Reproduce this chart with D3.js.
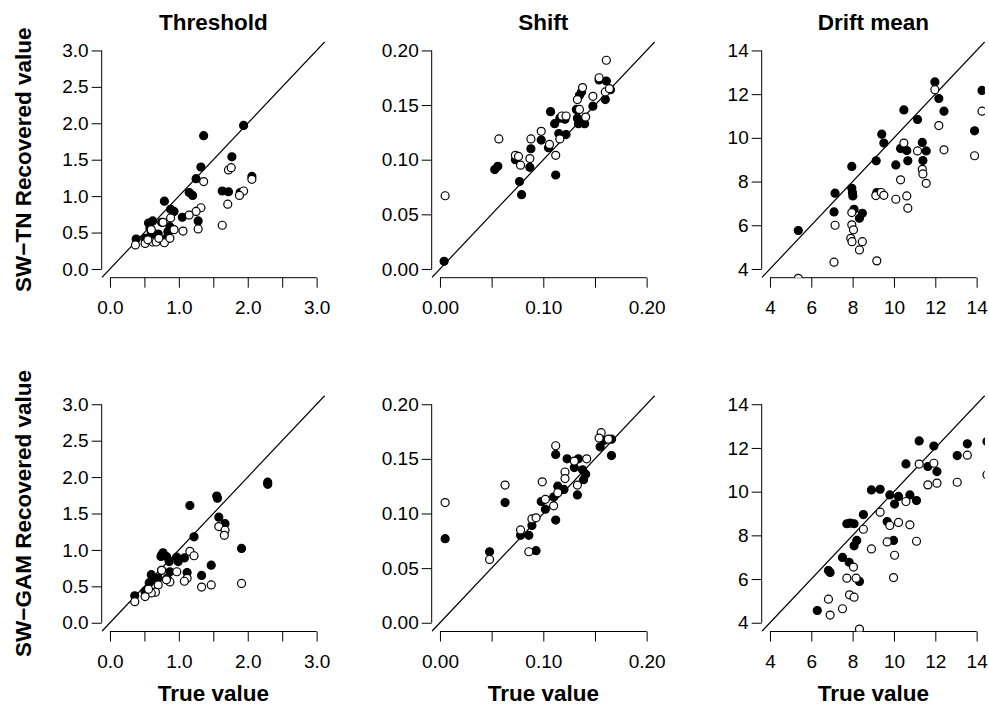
<!DOCTYPE html>
<html>
<head>
<meta charset="utf-8">
<script src="https://cdn.jsdelivr.net/npm/d3@7"></script>
<style>
body { margin: 0; background: #fff; }
text { font-family: "Liberation Sans", Arial, Helvetica, sans-serif; fill: #000; }
.tick text { font-size: 19px; }
.lab { font-size: 22.5px; font-weight: bold; }
</style>
</head>
<body>
<svg id="chart" width="989" height="710"></svg>
<script>
// tick values and labels per parameter
var thresholdTicks = [0, 0.5, 1, 1.5, 2, 2.5, 3]
var thresholdXLabels = ['0.0', '', '1.0', '', '2.0', '', '3.0']
var thresholdYLabels = ['0.0', '0.5', '1.0', '1.5', '2.0', '2.5', '3.0']
var shiftTicks = [0, 0.05, 0.1, 0.15, 0.2]
var shiftXLabels = ['0.00', '', '0.10', '', '0.20']
var shiftYLabels = ['0.00', '0.05', '0.10', '0.15', '0.20']
var driftTicks = [4, 6, 8, 10, 12, 14]
var driftLabels = ['4', '6', '8', '10', '12', '14']

var titles = ['Threshold', 'Shift', 'Drift mean']
var rowLabels = ['SW\u2212TN Recovered value', 'SW\u2212GAM Recovered value']

// [true, recovered] pairs, filled and open symbols
var tnThresholdFilled = [[1.94,1.97],[1.36,1.83],[1.77,1.54],[1.32,1.40],[1.25,1.24],[2.06,1.27],[1.15,1.05],[1.20,1.01],[1.63,1.07],[1.72,1.06],[1.89,1.05],[0.79,0.93],[0.88,0.82],[0.93,0.79],[1.05,0.71],[1.28,0.66],[0.62,0.66],[0.56,0.63],[0.75,0.64],[0.38,0.41],[0.51,0.42],[0.60,0.49],[0.70,0.48],[0.84,0.51],[0.87,0.58],[0.82,0.42],[0.63,0.44],[0.58,0.56],[0.66,0.45]]
var tnThresholdOpen = [[1.36,1.20],[1.72,1.36],[1.76,1.39],[2.06,1.23],[1.94,1.07],[1.88,1.01],[1.71,0.89],[1.63,0.60],[1.32,0.84],[1.25,0.79],[1.15,0.74],[1.06,0.52],[1.28,0.55],[0.88,0.70],[0.93,0.54],[0.77,0.64],[0.37,0.33],[0.51,0.35],[0.60,0.54],[0.62,0.37],[0.67,0.37],[0.79,0.36],[0.87,0.42],[0.71,0.42],[0.55,0.40]]

var tnShiftFilled = [[0.004,0.007],[0.053,0.091],[0.056,0.094],[0.077,0.080],[0.079,0.068],[0.087,0.093],[0.088,0.110],[0.073,0.100],[0.098,0.118],[0.105,0.111],[0.112,0.086],[0.107,0.144],[0.111,0.133],[0.115,0.124],[0.122,0.123],[0.116,0.138],[0.121,0.137],[0.132,0.146],[0.133,0.138],[0.134,0.133],[0.140,0.133],[0.135,0.159],[0.137,0.162],[0.148,0.149],[0.154,0.173],[0.161,0.172],[0.165,0.164],[0.160,0.155]]
var tnShiftOpen = [[0.005,0.067],[0.057,0.119],[0.073,0.104],[0.076,0.103],[0.078,0.095],[0.087,0.101],[0.088,0.119],[0.098,0.126],[0.106,0.114],[0.112,0.104],[0.116,0.119],[0.118,0.140],[0.122,0.140],[0.133,0.155],[0.135,0.146],[0.138,0.166],[0.141,0.139],[0.148,0.158],[0.154,0.175],[0.160,0.162],[0.161,0.191],[0.164,0.165]]

var tnDriftFilled = [[5.37,5.76],[7.10,6.61],[7.15,7.47],[7.96,8.69],[7.96,7.69],[7.99,7.50],[8.01,7.34],[8.07,6.73],[8.33,6.32],[8.47,6.55],[9.14,8.95],[9.41,10.17],[9.51,9.76],[9.17,7.50],[10.09,8.76],[10.32,9.51],[10.48,11.28],[10.62,9.42],[10.67,8.95],[11.14,10.84],[11.37,9.79],[11.56,9.40],[11.40,8.96],[11.98,12.56],[12.17,11.80],[12.42,11.22],[13.90,10.32],[14.26,12.17]]
var tnDriftOpen = [[5.37,3.57],[7.10,4.31],[7.15,6.00],[7.96,6.58],[7.96,6.02],[8.04,5.79],[7.91,5.40],[7.97,5.25],[8.33,4.87],[8.47,5.25],[9.17,4.37],[9.12,7.36],[9.38,7.50],[9.51,7.37],[10.09,7.19],[10.32,8.08],[10.48,9.76],[10.62,7.34],[10.67,6.78],[11.14,9.40],[11.37,8.56],[11.40,8.35],[11.56,7.92],[11.98,12.20],[12.17,10.56],[12.42,9.45],[13.90,9.18],[14.26,11.22]]

var gamThresholdFilled = [[2.29,1.93],[2.29,1.90],[1.55,1.74],[1.56,1.71],[1.16,1.61],[1.58,1.45],[1.67,1.36],[1.22,1.18],[1.91,1.02],[1.47,0.79],[1.33,0.65],[1.12,0.69],[1.08,0.89],[0.97,0.90],[0.99,0.84],[0.86,0.84],[0.75,0.93],[0.77,0.96],[0.82,0.91],[0.74,0.91],[0.87,0.70],[0.83,0.61],[0.75,0.72],[0.60,0.66],[0.57,0.55],[0.65,0.59],[0.70,0.61],[0.51,0.43],[0.36,0.37]]
var gamThresholdOpen = [[1.58,1.32],[1.67,1.27],[1.66,1.20],[1.16,0.98],[1.22,0.92],[1.91,0.54],[1.47,0.52],[1.33,0.49],[1.12,0.61],[1.08,0.57],[0.97,0.70],[0.87,0.56],[0.75,0.72],[0.70,0.52],[0.66,0.42],[0.60,0.41],[0.51,0.36],[0.36,0.29],[0.56,0.46],[0.82,0.59]]

var gamShiftFilled = [[0.005,0.077],[0.048,0.065],[0.063,0.110],[0.078,0.080],[0.086,0.080],[0.093,0.066],[0.089,0.089],[0.098,0.111],[0.102,0.104],[0.110,0.115],[0.112,0.094],[0.112,0.154],[0.114,0.125],[0.120,0.122],[0.123,0.150],[0.133,0.117],[0.134,0.150],[0.130,0.142],[0.138,0.140],[0.139,0.131],[0.141,0.136],[0.155,0.161],[0.159,0.167],[0.166,0.168],[0.166,0.153]]
var gamShiftOpen = [[0.005,0.110],[0.048,0.058],[0.063,0.126],[0.078,0.085],[0.086,0.065],[0.089,0.095],[0.093,0.096],[0.099,0.129],[0.102,0.113],[0.110,0.107],[0.112,0.162],[0.114,0.119],[0.121,0.138],[0.121,0.132],[0.133,0.126],[0.130,0.148],[0.142,0.150],[0.156,0.174],[0.154,0.169],[0.163,0.168]]

var gamDriftFilled = [[6.29,4.56],[6.83,6.39],[6.91,6.30],[7.51,6.99],[7.83,6.77],[8.33,5.89],[8.07,7.52],[8.20,7.77],[7.72,8.53],[7.88,8.56],[8.07,8.53],[8.52,8.95],[8.91,10.08],[9.33,10.11],[9.67,8.63],[9.80,9.85],[10.03,9.43],[10.22,9.78],[9.98,7.77],[10.58,11.27],[10.77,9.85],[11.09,9.59],[11.22,12.32],[11.64,11.15],[11.93,12.09],[12.08,10.92],[13.06,11.65],[13.55,12.19],[14.5,12.3]]
var gamDriftOpen = [[6.83,5.08],[6.91,4.35],[7.51,4.64],[7.72,6.04],[7.85,5.28],[8.07,5.17],[8.04,6.55],[8.17,6.04],[8.33,3.71],[8.52,8.28],[8.91,7.38],[9.33,9.06],[9.67,7.70],[9.80,8.45],[10.03,7.09],[9.98,6.07],[10.22,8.59],[10.58,9.55],[10.77,8.48],[11.09,7.73],[11.22,11.26],[11.64,10.31],[11.93,11.30],[12.08,10.39],[13.06,10.43],[13.55,11.67],[14.5,10.77]]

var colLeft = [101.7, 431.7, 761.7]
,   rowTop = [41.7, 395.5]
,   plotW = 223.2
,   plotH = 236

var params = [
  {ticks: thresholdTicks, xLabels: thresholdXLabels, yLabels: thresholdYLabels}
, {ticks: shiftTicks, xLabels: shiftXLabels, yLabels: shiftYLabels}
, {ticks: driftTicks, xLabels: driftLabels, yLabels: driftLabels}
]

var panels = [
  {row: 0, col: 0, filled: tnThresholdFilled, open: tnThresholdOpen}
, {row: 0, col: 1, filled: tnShiftFilled, open: tnShiftOpen}
, {row: 0, col: 2, filled: tnDriftFilled, open: tnDriftOpen}
, {row: 1, col: 0, filled: gamThresholdFilled, open: gamThresholdOpen}
, {row: 1, col: 1, filled: gamShiftFilled, open: gamShiftOpen}
, {row: 1, col: 2, filled: gamDriftFilled, open: gamDriftOpen}
]

// R style 4% padding around the tick range
function padded(ticks) {
  var lo = ticks[0]
  ,   hi = ticks[ticks.length - 1]
  ,   d = (hi - lo) * 0.04
  return [lo - d, hi + d]
}

var svg = d3.select('#chart')

panels.forEach(function(p, i) {
  var par = params[p.col]
  ,   left = colLeft[p.col]
  ,   top = rowTop[p.row]
  ,   dom = padded(par.ticks)
  ,   x = d3.scaleLinear().domain(dom).range([left, left + plotW])
  ,   y = d3.scaleLinear().domain(dom).range([top + plotH, top])
  ,   t0 = par.ticks[0]
  ,   t1 = par.ticks[par.ticks.length - 1]

  svg.append('clipPath')
    .attr('id', 'clip' + i)
    .append('rect')
    .attr('x', left).attr('y', top)
    .attr('width', plotW).attr('height', plotH)

  var xAxis = svg.append('g')
    .attr('transform', 'translate(0,' + (top + plotH) + ')')
    .call(d3.axisBottom(x).tickValues(par.ticks).tickSize(10).tickSizeOuter(0).tickPadding(13)
      .tickFormat((d, k) => par.xLabels[k]))
  xAxis.select('.domain').remove()
  xAxis.append('line')
    .attr('x1', x(t0)).attr('x2', x(t1))
    .attr('stroke', '#000')

  var yAxis = svg.append('g')
    .attr('transform', 'translate(' + left + ',0)')
    .call(d3.axisLeft(y).tickValues(par.ticks).tickSize(10).tickSizeOuter(0).tickPadding(3)
      .tickFormat((d, k) => par.yLabels[k]))
  yAxis.select('.domain').remove()
  yAxis.append('line')
    .attr('y1', y(t0)).attr('y2', y(t1))
    .attr('stroke', '#000')

  svg.selectAll('.tick text').attr('fill', '#000')

  var g = svg.append('g').attr('clip-path', 'url(#clip' + i + ')')

  g.append('line')
    .attr('x1', x(dom[0])).attr('y1', y(dom[0]))
    .attr('x2', x(dom[1])).attr('y2', y(dom[1]))
    .attr('stroke', '#000')
    .attr('stroke-width', 1.2)

  g.selectAll('.pt-filled')
    .data(p.filled)
    .enter()
    .append('circle')
    .attr('class', 'pt-filled')
    .attr('cx', (d) => x(d[0]))
    .attr('cy', (d) => y(d[1]))
    .attr('r', 4)
    .attr('fill', '#000')
    .attr('stroke', '#000')
    .attr('stroke-width', 1.2)

  g.selectAll('.pt-open')
    .data(p.open)
    .enter()
    .append('circle')
    .attr('class', 'pt-open')
    .attr('cx', (d) => x(d[0]))
    .attr('cy', (d) => y(d[1]))
    .attr('r', 4)
    .attr('fill', '#fff')
    .attr('stroke', '#000')
    .attr('stroke-width', 1.2)

  if (p.row === 0) {
    svg.append('text')
      .attr('class', 'lab')
      .attr('x', left + plotW / 2)
      .attr('y', 30)
      .attr('text-anchor', 'middle')
      .text(titles[p.col])
  } else {
    svg.append('text')
      .attr('class', 'lab')
      .attr('x', left + plotW / 2)
      .attr('y', 701)
      .attr('text-anchor', 'middle')
      .text('True value')
  }

  if (p.col === 0) {
    svg.append('text')
      .attr('class', 'lab')
      .attr('transform', 'translate(31,' + (top + plotH / 2) + ') rotate(-90)')
      .attr('text-anchor', 'middle')
      .text(rowLabels[p.row])
  }
})
</script>
</body>
</html>
